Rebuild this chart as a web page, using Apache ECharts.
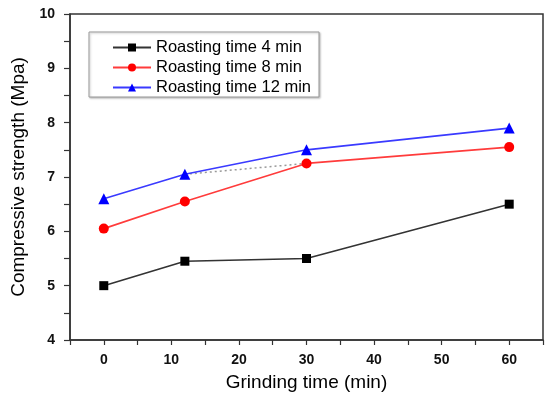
<!DOCTYPE html>
<html>
<head>
<meta charset="utf-8">
<script src="https://cdn.jsdelivr.net/npm/echarts@6/dist/echarts.min.js"></script>
<style>
  html, body { margin: 0; padding: 0; background: #fff; }
  #chart { width: 547px; height: 400px; }
</style>
</head>
<body>
<div id="chart"></div>
<script>
// Grinding times (min) and compressive strength (MPa) per roasting time
const grindTimes = [0, 12, 30, 60];
const roast4 = [5.0, 5.45, 5.5, 6.5];
const roast8 = [6.05, 6.55, 7.25, 7.55];
const roast12 = [6.6, 7.05, 7.5, 7.9];
const seriesNames = ['Roasting time 4 min', 'Roasting time 8 min', 'Roasting time 12 min'];

const pairs = (xs, ys) => xs.map((x, i) => [x, ys[i]]);
// faint dotted guide between the 12 min point at 12 min and the 8 min point at 30 min
const guide = [[grindTimes[1], roast12[1]], [grindTimes[2], roast8[2]]];

const font = 'Arial, "Liberation Sans", sans-serif';
const chart = echarts.init(document.getElementById('chart'));
chart.setOption({
  animation: false,
  backgroundColor: '#fff',
  grid: {
    left: 70, right: 4, top: 14, bottom: 60,
    show: true, borderColor: '#333', borderWidth: 1.5
  },
  legend: {
    data: seriesNames,
    orient: 'vertical',
    left: 89, top: 32,
    itemGap: 3,
    itemWidth: 38, itemHeight: 10,
    padding: [7, 8, 1, 23],
    borderColor: '#9a9a9a', borderWidth: 1,
    shadowColor: 'rgba(0,0,0,0.25)', shadowBlur: 2, shadowOffsetX: 1, shadowOffsetY: 1,
    backgroundColor: '#fff',
    textStyle: { fontFamily: font, fontSize: 16.5, lineHeight: 16, color: '#000' }
  },
  xAxis: {
    type: 'value', min: -5, max: 65, interval: 5,
    name: 'Grinding time (min)', nameLocation: 'middle', nameGap: 33,
    nameTextStyle: { fontFamily: font, fontSize: 19, color: '#000' },
    axisLine: { onZero: false, lineStyle: { color: '#333', width: 1.5 } },
    axisTick: { show: true, inside: false, length: 5, lineStyle: { color: '#333', width: 1.2 } },
    axisLabel: {
      fontFamily: font, fontSize: 14, fontWeight: 'bold', color: '#111', margin: 13,
      formatter: v => (v % 10 === 0 && v >= 0 && v <= 60) ? String(v) : ''
    },
    splitLine: { show: false }
  },
  yAxis: {
    type: 'value', min: 4, max: 10, interval: 0.5,
    name: 'Compressive strength (Mpa)', nameLocation: 'middle', nameGap: 38,
    nameTextStyle: { fontFamily: font, fontSize: 19, color: '#000' },
    axisLine: { show: true, onZero: false, lineStyle: { color: '#333', width: 1.5 } },
    axisTick: { show: true, inside: false, length: 6, lineStyle: { color: '#333', width: 1.2 } },
    axisLabel: {
      fontFamily: font, fontSize: 14, fontWeight: 'bold', color: '#111', margin: 15,
      formatter: v => Number.isInteger(v) ? String(v) : ''
    },
    splitLine: { show: false }
  },
  series: [
    {
      name: seriesNames[0], type: 'line', data: pairs(grindTimes, roast4),
      symbol: 'rect', symbolSize: 9,
      lineStyle: { color: '#333', width: 1.6 },
      itemStyle: { color: '#000' }
    },
    {
      name: seriesNames[1], type: 'line', data: pairs(grindTimes, roast8),
      symbol: 'circle', symbolSize: 10,
      lineStyle: { color: '#ff3b3b', width: 1.6 },
      itemStyle: { color: '#ff0000' }
    },
    {
      name: seriesNames[2], type: 'line', data: pairs(grindTimes, roast12),
      symbol: 'triangle', symbolSize: 11,
      lineStyle: { color: '#3a3aff', width: 1.6 },
      itemStyle: { color: '#0000ff' }
    },
    {
      name: 'guide', type: 'line', data: guide,
      symbol: 'none', silent: true, z: 1,
      lineStyle: { color: '#999', width: 1.5, type: [2, 3] }
    }
  ]
});
</script>
</body>
</html>
